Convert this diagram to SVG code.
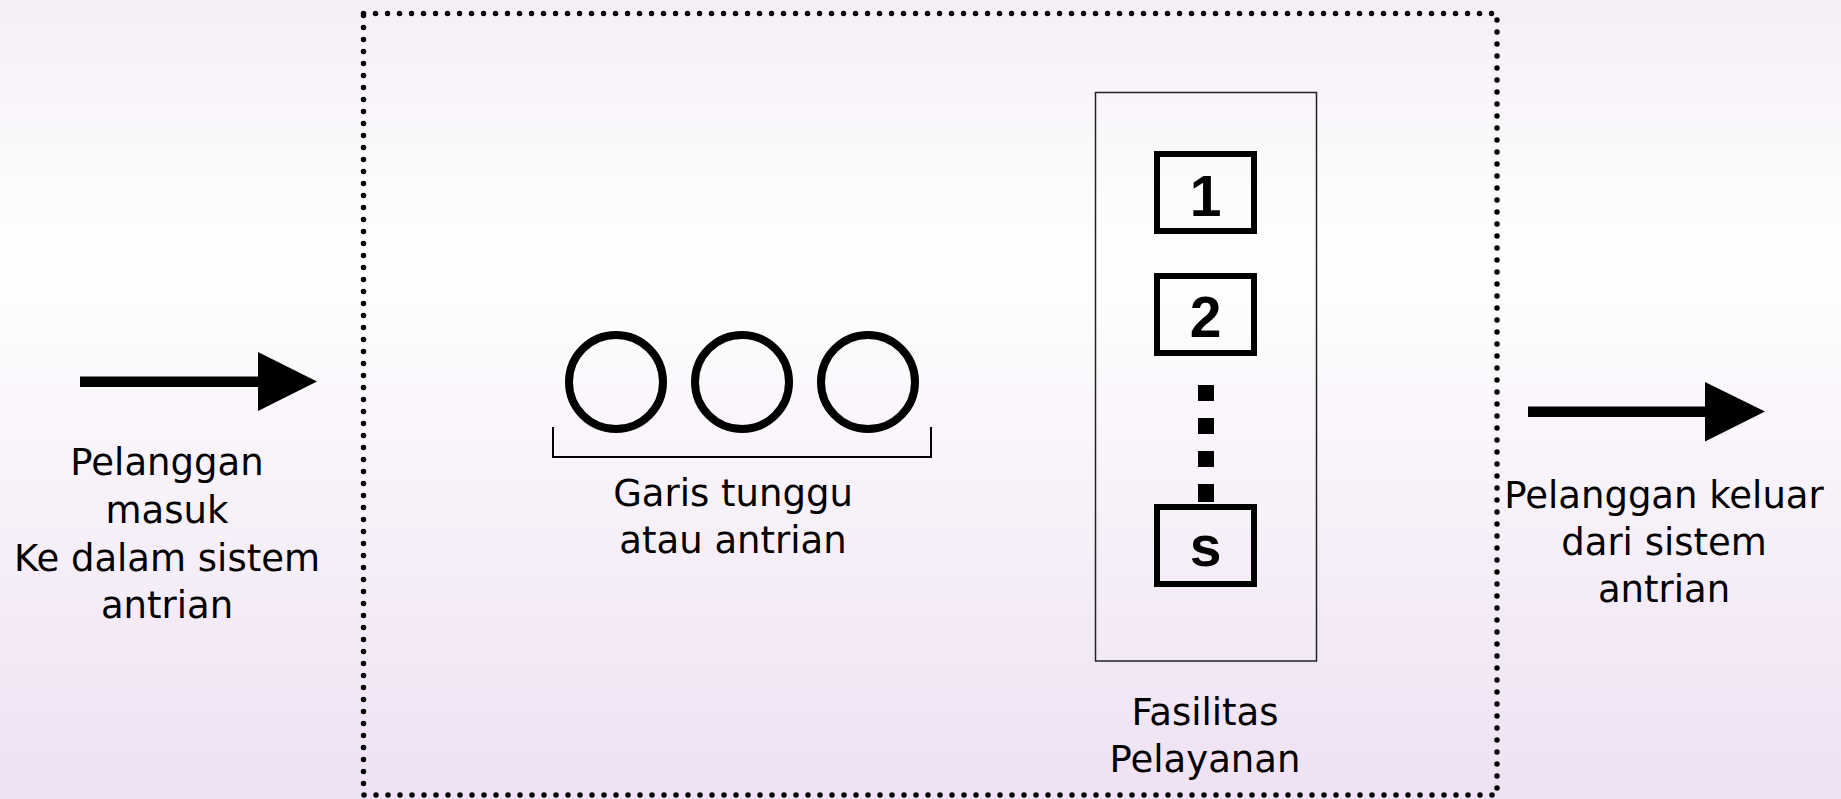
<svg xmlns="http://www.w3.org/2000/svg" width="1841" height="799" viewBox="0 0 1841 799">
<defs>
<linearGradient id="bg" x1="0" y1="0" x2="0" y2="1">
<stop offset="0" stop-color="#f5eff7"/>
<stop offset="0.32" stop-color="#ffffff"/>
<stop offset="1" stop-color="#eee1f3"/>
</linearGradient>
</defs>
<style>
.t{font-family:"DejaVu Sans","Verdana",sans-serif;font-size:37px;fill:#000;text-anchor:middle}
.n{font-family:"Liberation Sans",Arial,sans-serif;font-weight:bold;font-size:57px;fill:#000;text-anchor:middle}
.srv{fill:none;stroke:#000;stroke-width:6}
.cust{fill:none;stroke:#000;stroke-width:8}
</style>
<rect x="0" y="0" width="1841" height="799" fill="url(#bg)"/>
<g id="system">
<rect x="363.5" y="13.5" width="1133.5" height="781.5" fill="none" stroke="#000" stroke-width="5.5" stroke-linecap="round" stroke-dasharray="0 12"/>
</g>
<g id="queue">
<circle class="cust" cx="616" cy="382" r="47"/>
<circle class="cust" cx="742" cy="382" r="47"/>
<circle class="cust" cx="868" cy="382" r="47"/>
<path d="M553 427 V457 H931 V427" fill="none" stroke="#000" stroke-width="2"/>
<text class="t" x="733" y="506">Garis tunggu</text>
<text class="t" x="733" y="553">atau antrian</text>
</g>
<g id="facility">
<rect x="1095.5" y="92.5" width="221" height="568.5" fill="none" stroke="#222" stroke-width="1.5"/>
<rect class="srv" x="1157" y="154" width="97" height="77"/>
<text class="n" x="1205.5" y="216">1</text>
<rect class="srv" x="1157" y="276" width="97" height="77"/>
<text class="n" x="1205.5" y="337">2</text>
<rect x="1198" y="385" width="16" height="16"/>
<rect x="1198" y="418" width="16" height="16"/>
<rect x="1198" y="451" width="16" height="16"/>
<rect x="1198" y="484" width="16" height="18"/>
<rect class="srv" x="1157" y="507" width="97" height="77"/>
<text class="n" x="1205.5" y="566">s</text>
<text class="t" x="1205" y="725">Fasilitas</text>
<text class="t" x="1205" y="772">Pelayanan</text>
</g>
<g id="arrival">
<text class="t" x="167" y="475">Pelanggan</text>
<text class="t" x="167" y="523">masuk</text>
<text class="t" x="167" y="570.5">Ke dalam sistem</text>
<text class="t" x="167" y="618">antrian</text>
</g>
<g id="departure">
<text class="t" x="1664" y="508">Pelanggan keluar</text>
<text class="t" x="1664" y="555">dari sistem</text>
<text class="t" x="1664" y="602">antrian</text>
</g>
<g id="connectors">
<path d="M80 376.5 H258 V352 L317 381.5 L258 411 V387 H80 Z" fill="#000"/>
<path d="M1528 406.5 H1705 V382 L1765 411.5 L1705 441.5 V417 H1528 Z" fill="#000"/>
</g>
</svg>
